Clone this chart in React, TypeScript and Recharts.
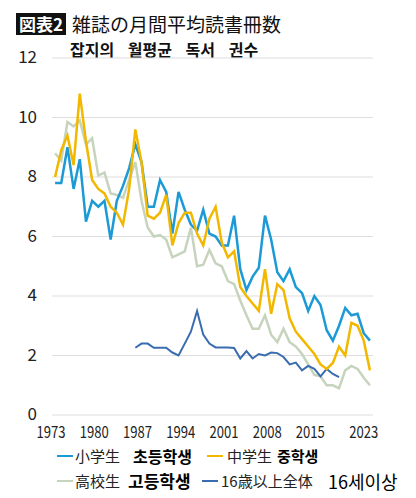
import React from "react";
import { LineChart, Line, XAxis, YAxis, CartesianGrid } from "recharts";

const years: number[] = [
  1973, 1974, 1975, 1976, 1977, 1978, 1979, 1980, 1981, 1982,
  1983, 1984, 1985, 1986, 1987, 1988, 1989, 1990, 1991, 1992,
  1993, 1994, 1995, 1996, 1997, 1998, 1999, 2000, 2001, 2002,
  2003, 2004, 2005, 2006, 2007, 2008, 2009, 2010, 2011, 2012,
  2013, 2014, 2015, 2016, 2017, 2018, 2019, 2020, 2021, 2022,
  2023, 2024,
];

const elementary: number[] = [
  7.8, 7.8, 9.0, 7.6, 8.6, 6.5, 7.2, 7.0, 7.2, 5.9,
  7.2, 7.7, 8.3, 9.1, 8.5, 7.0, 7.0, 7.9, 7.5, 6.1,
  7.5, 6.9, 6.4, 6.2, 6.9, 6.1, 6.0, 5.7, 5.7, 6.7,
  4.9, 4.2, 4.65, 4.95, 6.7, 5.9, 4.8, 4.5, 4.9, 4.3,
  4.1, 3.5, 4.0, 3.7, 2.85, 2.5, 3.0, 3.6, 3.35, 3.4,
  2.75, 2.5,
];

const middle: number[] = [
  8.0, 8.9, 9.4, 8.4, 10.8, 9.2, 7.9, 7.6, 7.45, 7.0,
  6.8, 6.4, 7.6, 9.6, 8.5, 6.7, 6.6, 6.8, 7.4, 5.7,
  6.45, 6.8, 6.8, 6.1, 5.7, 6.6, 7.0, 5.8, 5.3, 5.5,
  4.3, 4.0, 3.75, 3.5, 4.9, 3.4, 4.4, 4.2, 3.25, 2.8,
  2.55, 2.3, 2.05, 1.7, 1.55, 1.75, 2.3, 2.0, 3.1, 3.0,
  2.5, 1.5,
];

const high: number[] = [
  8.8, 8.55, 9.85, 9.7, 9.9, 9.1, 9.3, 8.05, 8.15, 7.45,
  7.4, 7.3, 7.9, 8.5, 7.2, 6.3, 6.0, 6.05, 5.9, 5.3,
  5.4, 5.5, 6.3, 5.0, 5.05, 5.55, 5.1, 5.0, 4.5, 4.4,
  3.85, 3.35, 2.9, 2.9, 3.35, 2.7, 2.45, 2.9, 2.45, 2.3,
  2.05, 1.7, 1.35, 1.3, 1.0, 1.0, 0.9, 1.5, 1.65, 1.55,
  1.25, 1.0,
];

const adultStartYear = 1986;
const adult: number[] = [
  2.26, 2.4, 2.4, 2.26, 2.26, 2.26, 2.1, 2.0, 2.4, 2.8,
  3.5, 2.7, 2.4, 2.27, 2.27, 2.27, 2.25, 1.9, 2.15, 1.9,
  2.05, 2.0, 2.1, 2.08, 1.95, 1.7, 1.76, 1.5, 1.65, 1.55,
  1.3, 1.55, 1.38, 1.27,
];

const xTicks: number[] = [1973, 1980, 1987, 1994, 2001, 2008, 2015, 2023];
const yTicks: number[] = [0, 2, 4, 6, 8, 10, 12];

const titleTag = "図表2";
const titleText = "雑誌の月間平均読書冊数";
const subtitleText = "잡지의 월평균 독서 권수";

const colors = {
  elementary: "#1b9ad6",
  middle: "#f2b800",
  high: "#c6d4bd",
  adult: "#3a6cb0",
};

const data = years.map((y, i) => {
  const ai = y - adultStartYear;
  return {
    year: y,
    elementary: elementary[i],
    middle: middle[i],
    high: high[i],
    adult: ai >= 0 && ai < adult.length ? adult[ai] : null,
  };
});

const JP = '"Noto Sans CJK JP", "Noto Sans", sans-serif';
const KR = '"Noto Sans CJK KR", "Noto Sans", sans-serif';

const XTick = (props: any) => {
  const { x, y, payload } = props;
  const dx = payload.value === 2023 ? 0 : -4;
  return (
    <text
      x={x + dx}
      y={y}
      dy="0.71em"
      textAnchor="middle"
      fontSize={16}
      textLength={29}
      lengthAdjust="spacingAndGlyphs"
      fill="#222"
      fontFamily={JP}
    >
      {payload.value}
    </text>
  );
};

const YTick = (props: any) => {
  const { x, y, payload } = props;
  return (
    <text
      x={x}
      y={y}
      dy="0.3em"
      textAnchor="end"
      fontSize={17}
      fill="#222"
      fontFamily={JP}
    >
      {payload.value}
    </text>
  );
};

type LegendItem = {
  color: string;
  lineLeft: number;
  jp: string;
  jpLeft: number;
  kr: string;
  krLeft: number;
  krSize: number;
  krWeight: number;
  cy: number;
};

const legendItems: LegendItem[] = [
  { color: colors.elementary, lineLeft: 57, jp: "小学生", jpLeft: 75, kr: "초등학생", krLeft: 133, krSize: 16, krWeight: 700, cy: 456 },
  { color: colors.middle, lineLeft: 207, jp: "中学生", jpLeft: 227, kr: "중학생", krLeft: 277, krSize: 15, krWeight: 700, cy: 456 },
  { color: colors.high, lineLeft: 57, jp: "高校生", jpLeft: 75, kr: "고등학생", krLeft: 128, krSize: 17, krWeight: 700, cy: 481 },
  { color: colors.adult, lineLeft: 202, jp: "16歳以上全体", jpLeft: 221, kr: "16세이상", krLeft: 328, krSize: 18, krWeight: 400, cy: 481 },
];

export default function App() {
  return (
    <div
      style={{
        position: "absolute",
        left: 0,
        top: 0,
        width: 416,
        height: 498,
        background: "#fff",
        overflow: "hidden",
      }}
    >
      <div
        style={{
          position: "absolute",
          left: 16,
          top: 13,
          width: 50,
          height: 22,
          background: "#111",
          color: "#fff",
          fontFamily: JP,
          fontWeight: 700,
          fontSize: 17,
          lineHeight: "22px",
          textAlign: "center",
        }}
      >
        {titleTag}
      </div>
      <div
        style={{
          position: "absolute",
          left: 72,
          top: 14,
          fontFamily: JP,
          fontSize: 19,
          lineHeight: "20px",
          color: "#111",
          whiteSpace: "nowrap",
        }}
      >
        {titleText}
      </div>
      <div
        style={{
          position: "absolute",
          left: 70,
          top: 40,
          fontFamily: KR,
          fontSize: 16,
          fontWeight: 700,
          lineHeight: "18px",
          color: "#111",
          wordSpacing: 10,
          whiteSpace: "nowrap",
        }}
      >
        {subtitleText}
      </div>

      <div style={{ position: "absolute", left: 0, top: 0 }}>
        <LineChart
          width={416}
          height={445}
          data={data}
          margin={{ top: 58, right: 43, left: 12, bottom: 0 }}
        >
          <CartesianGrid vertical={false} stroke="#dddddd" strokeWidth={1} />
          <XAxis
            dataKey="year"
            type="number"
            domain={[1972.5, 2024.5]}
            ticks={xTicks}
            interval={0}
            axisLine={false}
            tickLine={false}
            tickMargin={6}
            height={30}
            tick={<XTick />}
          />
          <YAxis
            type="number"
            domain={[0, 12]}
            ticks={yTicks}
            interval={0}
            axisLine={false}
            tickLine={false}
            tickMargin={9}
            width={40}
            tick={<YTick />}
          />
          <Line
            type="linear"
            dataKey="high"
            stroke={colors.high}
            strokeWidth={2.5}
            dot={false}
            isAnimationActive={false}
          />
          <Line
            type="linear"
            dataKey="adult"
            stroke={colors.adult}
            strokeWidth={2}
            dot={false}
            connectNulls={false}
            isAnimationActive={false}
          />
          <Line
            type="linear"
            dataKey="elementary"
            stroke={colors.elementary}
            strokeWidth={2.5}
            dot={false}
            isAnimationActive={false}
          />
          <Line
            type="linear"
            dataKey="middle"
            stroke={colors.middle}
            strokeWidth={2.5}
            dot={false}
            isAnimationActive={false}
          />
        </LineChart>
      </div>

      {legendItems.map((it) => (
        <React.Fragment key={it.jp}>
          <div
            style={{
              position: "absolute",
              left: it.lineLeft,
              top: it.cy - 1,
              width: 16,
              height: 2,
              background: it.color,
            }}
          />
          <div
            style={{
              position: "absolute",
              left: it.jpLeft,
              top: it.cy - 10,
              fontFamily: JP,
              fontSize: 15,
              lineHeight: "20px",
              color: "#222",
              whiteSpace: "nowrap",
            }}
          >
            {it.jp}
          </div>
          <div
            style={{
              position: "absolute",
              left: it.krLeft,
              top: it.cy - 11,
              fontFamily: KR,
              fontSize: it.krSize,
              fontWeight: it.krWeight,
              lineHeight: "22px",
              color: "#000",
              whiteSpace: "nowrap",
            }}
          >
            {it.kr}
          </div>
        </React.Fragment>
      ))}
    </div>
  );
}
